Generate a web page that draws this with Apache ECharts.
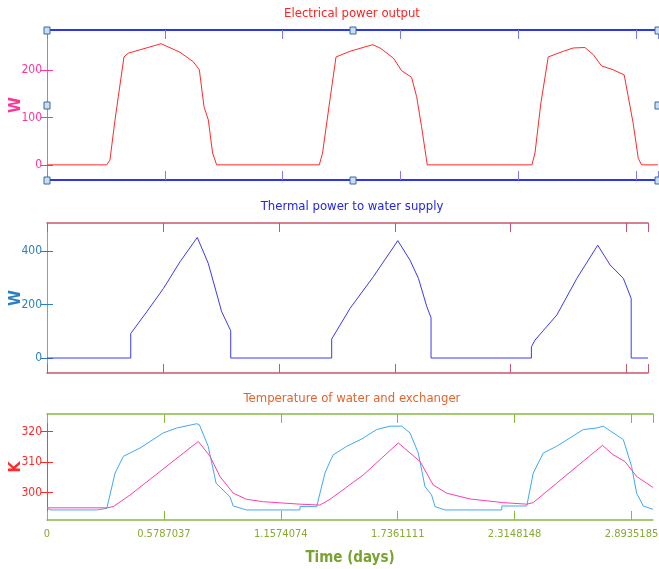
<!DOCTYPE html>
<html>
<head>
<meta charset="utf-8">
<script src="https://cdn.jsdelivr.net/npm/echarts@6/dist/echarts.min.js"></script>
<style>
  html, body { margin: 0; padding: 0; background: #fff; }
  #main { width: 659px; height: 569px; }
</style>
</head>
<body>
<div id="main"></div>
<script>
var FONT = '"DejaVu Sans Condensed", "Liberation Sans Narrow", "DejaVu Sans", sans-serif';

// time axis: ticks every 50000 s, shown in days
var tickStep = 50000 / 86400;
var dayMax = 3;

// electrical power output (W)
var elecDays = [0, 0.293, 0.309, 0.334, 0.350, 0.378, 0.399, 0.560, 0.653, 0.718, 0.748, 0.771, 0.792, 0.813, 0.833,
  1.337, 1.353, 1.389, 1.419, 1.488, 1.599, 1.635, 1.700, 1.741, 1.790, 1.815, 1.839, 1.867,
  2.381, 2.396, 2.425, 2.461, 2.535, 2.584, 2.641, 2.682, 2.723, 2.780, 2.834, 2.854, 2.878, 2.903, 2.919, 3.0];
var elecW = [0, 0, 10, 95, 144, 228, 236, 256, 238, 218, 201, 123, 95, 25, 0,
  0, 25, 137, 228, 240, 254, 247, 226, 199, 185, 144, 81, 0,
  0, 25, 131, 228, 240, 247, 248, 233, 209, 201, 190, 144, 88, 14, 0, 0];

// thermal power to water supply (W)
var thermDays = [0, 0.418, 0.418, 0.498, 0.581, 0.664, 0.750, 0.805, 0.872, 0.917, 0.917,
  1.421, 1.421, 1.513, 1.629, 1.751, 1.812, 1.854, 1.896, 1.917, 1.917,
  2.418, 2.418, 2.436, 2.545, 2.645, 2.749, 2.811, 2.877, 2.916, 2.916, 3.0];
var thermW = [0, 0, 92, 173, 260, 360, 451, 354, 173, 102, 0,
  0, 71, 186, 304, 439, 366, 298, 192, 151, 0,
  0, 42, 67, 161, 298, 422, 348, 298, 223, 0, 0];

// temperature of exchanger (K)
var exchDays = [0, 0.02, 0.246, 0.296, 0.337, 0.378, 0.460, 0.576, 0.642, 0.741, 0.754, 0.798, 0.837, 0.906, 0.922, 0.988,
  1.252, 1.253, 1.335, 1.376, 1.401, 1.417, 1.484, 1.558, 1.632, 1.698, 1.756, 1.797, 1.838, 1.871, 1.904, 1.921, 1.970,
  2.251, 2.252, 2.375, 2.407, 2.457, 2.523, 2.655, 2.721, 2.754, 2.803, 2.853, 2.894, 2.919, 2.952, 3.0];
var exchK = [294.8, 294.3, 294.3, 294.8, 306.4, 311.9, 314.6, 319.6, 321.2, 322.6, 322.3, 315.2, 303.1, 298.6, 295.6, 294.3,
  294.3, 295.4, 295.4, 306.4, 310.2, 312.4, 315.2, 317.6, 320.7, 321.8, 321.8, 319.6, 313.0, 302.0, 299.2, 295.4, 294.3,
  294.3, 295.6, 295.6, 306.4, 313.0, 315.2, 320.7, 321.2, 321.8, 319.6, 317.4, 308.6, 299.8, 295.6, 294.5];

// temperature of water (K)
var waterDays = [0, 0.296, 0.328, 0.411, 0.559, 0.749, 0.807, 0.856, 0.922, 0.988, 1.071, 1.252, 1.351, 1.401,
  1.566, 1.739, 1.847, 1.912, 1.979, 2.094, 2.259, 2.375, 2.407, 2.523, 2.750, 2.803, 2.861, 2.919, 3.0];
var waterK = [295.0, 295.0, 295.4, 299.2, 306.9, 316.8, 311.9, 305.3, 299.8, 297.8, 297.0, 296.2, 295.9, 297.8,
  305.8, 316.3, 310.2, 302.5, 299.8, 297.9, 296.7, 296.2, 296.7, 303.1, 315.5, 312.4, 310.2, 305.3, 301.7];

var elecTicks = [0, 100, 200];
var thermTicks = [0, 200, 400];
var tempTicks = [300, 310, 320];

function zip(xs, ys) {
  return xs.map(function (x, i) { return [x, ys[i]]; });
}

var grids = [
  { left: 47, right: 1, top: 30, height: 150 },
  { left: 47, right: 11, top: 223, height: 150 },
  { left: 47, right: 6, top: 414, height: 106 }
];
var frame = [
  { border: '#2a36f0', tick: '#7a7cf0', side: '#f060b8', label: '#ff3399' },
  { border: '#c8566e', tick: '#c8566e', side: '#5aaee0', label: '#2a7fc0' },
  { border: '#88bb44', tick: '#88bb44', side: '#ff4040', label: '#ff2a2a' }
];

function timeAxis(g, pos, withLabels) {
  var f = frame[g];
  return {
    type: 'value', gridIndex: g, position: pos,
    min: 0, max: dayMax, interval: tickStep,
    axisLine: { show: true, onZero: false, lineStyle: { color: f.border, width: g === 0 ? 2 : 1.5 } },
    axisTick: { show: true, inside: true, length: 9, lineStyle: { color: f.tick, width: 1 } },
    axisLabel: withLabels ? {
      show: true, showMaxLabel: false, color: '#88aa33', fontFamily: FONT, fontSize: 11, margin: 9,
      formatter: function (v) { return v === 0 ? '0' : v.toFixed(7); }
    } : { show: false },
    splitLine: { show: false },
    name: withLabels ? 'Time (days)' : '',
    nameLocation: 'middle', nameGap: 31, nameMoveOverlap: false,
    nameTextStyle: { color: '#77a32e', fontFamily: FONT, fontSize: 15, fontWeight: 'bold' }
  };
}

function valueAxis(g, pos, min, max, ticks, name) {
  var f = frame[g];
  var left = pos === 'left';
  return {
    type: 'value', gridIndex: g, position: pos, min: min, max: max,
    axisLine: { show: true, lineStyle: { color: f.side, width: 1 } },
    axisTick: { show: true, inside: true, length: 6, customValues: ticks, lineStyle: { color: f.label } },
    axisLabel: left ? { show: true, customValues: ticks, color: f.label, fontFamily: FONT, fontSize: 12, margin: 5 } : { show: false },
    splitLine: { show: false },
    name: left ? name : '', nameLocation: 'middle', nameGap: 23, nameRotate: 90, nameMoveOverlap: false,
    nameTextStyle: { color: f.label, fontFamily: FONT, fontSize: 16, fontWeight: 'bold' }
  };
}

var titles = [
  { text: 'Electrical power output', color: '#ff2020', top: 7 },
  { text: 'Thermal power to water supply', color: '#2424ee', top: 200 },
  { text: 'Temperature of water and exchanger', color: '#e2642e', top: 392 }
];

// selection handles around the first panel (editor decoration)
var handles = [];
(function () {
  var g = grids[0];
  var x0 = g.left, x1 = 659 - g.right, y0 = g.top, y1 = g.top + g.height;
  var xm = (x0 + x1) / 2, ym = (y0 + y1) / 2;
  [[x0, y0], [xm, y0], [x1, y0], [x0, ym], [x1, ym], [x0, y1], [xm, y1], [x1, y1]].forEach(function (p) {
    handles.push({
      type: 'rect', z: 100,
      shape: { x: Math.round(p[0]) - 3, y: Math.round(p[1]) - 3, width: 6, height: 7 },
      style: { fill: '#c9def2', stroke: '#3b6a98', lineWidth: 1 }
    });
  });
})();

var chart = echarts.init(document.getElementById('main'), null, { renderer: 'canvas' });

chart.setOption({
  animation: false,
  backgroundColor: '#ffffff',
  title: titles.map(function (t) {
    return {
      text: t.text, left: 352, top: t.top, textAlign: 'center', padding: 0,
      textStyle: { color: t.color, fontFamily: FONT, fontSize: 13, fontWeight: 'normal' }
    };
  }),
  grid: grids.map(function (g) {
    return Object.assign({ show: false, containLabel: false, outerBoundsMode: 'none' }, g);
  }),
  xAxis: [
    timeAxis(0, 'bottom', false), timeAxis(0, 'top', false),
    timeAxis(1, 'bottom', false), timeAxis(1, 'top', false),
    timeAxis(2, 'bottom', true), timeAxis(2, 'top', false)
  ],
  yAxis: [
    valueAxis(0, 'left', -32, 285, elecTicks, 'W'), valueAxis(0, 'right', -32, 285, elecTicks, ''),
    valueAxis(1, 'left', -56, 505, thermTicks, 'W'), valueAxis(1, 'right', -56, 505, thermTicks, ''),
    valueAxis(2, 'left', 291, 325.8, tempTicks, 'K'), valueAxis(2, 'right', 291, 325.8, tempTicks, '')
  ],
  series: [
    { type: 'line', xAxisIndex: 0, yAxisIndex: 0, data: zip(elecDays, elecW), showSymbol: false,
      lineStyle: { color: '#ff2a2a', width: 1 } },
    { type: 'line', xAxisIndex: 2, yAxisIndex: 2, data: zip(thermDays, thermW), showSymbol: false,
      lineStyle: { color: '#3a3af0', width: 1 } },
    { type: 'line', xAxisIndex: 4, yAxisIndex: 4, data: zip(exchDays, exchK), showSymbol: false,
      lineStyle: { color: '#3fa9f5', width: 1 } },
    { type: 'line', xAxisIndex: 4, yAxisIndex: 4, data: zip(waterDays, waterK), showSymbol: false,
      lineStyle: { color: '#ff3fa8', width: 1 } }
  ],
  graphic: handles
});
</script>
</body>
</html>
